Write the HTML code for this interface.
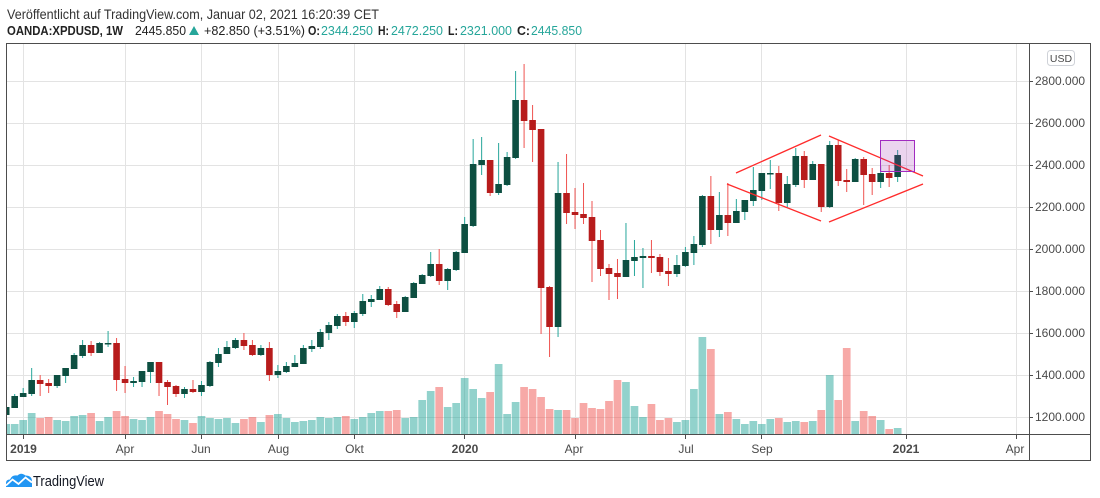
<!DOCTYPE html>
<html><head><meta charset="utf-8"><style>
html,body{margin:0;padding:0;background:#fff;width:1100px;height:498px;overflow:hidden}
svg{display:block}
.u path{stroke:#26a69a;stroke-width:1}
.d path{stroke:#ef5350;stroke-width:1}
.u rect.b{fill:#0d4f41}
.d rect.b{fill:#b71c1c}
.u rect.v{fill:rgba(38,166,154,.5)}
.d rect.v{fill:rgba(239,83,80,.5)}
.ax{font-family:"Liberation Sans",sans-serif;font-size:12px;fill:#4a4a4a}
</style></head><body>
<svg width="1100" height="498" viewBox="0 0 1100 498" xmlns="http://www.w3.org/2000/svg">
<defs><clipPath id="c"><rect x="7" y="44" width="1022" height="390"/></clipPath></defs>
<rect width="1100" height="498" fill="#fff"/>
<!-- header -->
<text x="7" y="19" font-family="Liberation Sans, sans-serif" font-size="14" fill="#333" textLength="372" lengthAdjust="spacingAndGlyphs">Veröffentlicht auf TradingView.com, Januar 02, 2021 16:20:39 CET</text>
<g font-family="Liberation Sans, sans-serif" font-size="13" fill="#222">
<text x="7" y="35" font-weight="bold" textLength="116" lengthAdjust="spacingAndGlyphs">OANDA:XPDUSD, 1W</text>
<text x="135" y="35" textLength="51" lengthAdjust="spacingAndGlyphs">2445.850</text>
<polygon points="189,35 194,26 199,35" fill="#26a69a"/>
<text x="204" y="35" textLength="101" lengthAdjust="spacingAndGlyphs">+82.850 (+3.51%)</text>
<text x="308" y="35" font-weight="bold" textLength="12" lengthAdjust="spacingAndGlyphs">O:</text>
<text x="321" y="35" fill="#26a69a" textLength="52" lengthAdjust="spacingAndGlyphs">2344.250</text>
<text x="378" y="35" font-weight="bold" textLength="11" lengthAdjust="spacingAndGlyphs">H:</text>
<text x="391" y="35" fill="#26a69a" textLength="52" lengthAdjust="spacingAndGlyphs">2472.250</text>
<text x="448" y="35" font-weight="bold" textLength="10" lengthAdjust="spacingAndGlyphs">L:</text>
<text x="460" y="35" fill="#26a69a" textLength="52" lengthAdjust="spacingAndGlyphs">2321.000</text>
<text x="517" y="35" font-weight="bold" textLength="13" lengthAdjust="spacingAndGlyphs">C:</text>
<text x="531" y="35" fill="#26a69a" textLength="51" lengthAdjust="spacingAndGlyphs">2445.850</text>
</g>
<!-- grid -->
<g stroke="#e3e3e3" stroke-width="1">
<path d="M7 81.5H1029M7 123.5H1029M7 165.5H1029M7 207.5H1029M7 249.5H1029M7 291.5H1029M7 333.5H1029M7 375.5H1029M7 417.5H1029"/>
<path d="M23.5 44V434M125.5 44V434M201.5 44V434M278.5 44V434M354.5 44V434M464.5 44V434M575.5 44V434M685.5 44V434M761.5 44V434M906.5 44V434M1016.5 44V434"/>
</g>
<!-- candles -->
<g clip-path="url(#c)">
<g class="u" transform="translate(6.2)"><rect class="v" x="-3.85" y="424" width="7.7" height="10"/><path d="M0 404V417"/><rect class="b" x="-3.3" y="407" width="6.6" height="8"/></g>
<g class="u" transform="translate(14.69)"><rect class="v" x="-3.85" y="424" width="7.7" height="10"/><path d="M0 394V408"/><rect class="b" x="-3.3" y="396" width="6.6" height="12"/></g>
<g class="u" transform="translate(23.18)"><rect class="v" x="-3.85" y="420" width="7.7" height="14"/><path d="M0 388V397"/><rect class="b" x="-3.3" y="393" width="6.6" height="4"/></g>
<g class="u" transform="translate(31.67)"><rect class="v" x="-3.85" y="413" width="7.7" height="21"/><path d="M0 368V396"/><rect class="b" x="-3.3" y="380" width="6.6" height="14"/></g>
<g class="d" transform="translate(40.16)"><rect class="v" x="-3.85" y="418" width="7.7" height="16"/><path d="M0 375V396"/><rect class="b" x="-3.3" y="380" width="6.6" height="4"/></g>
<g class="d" transform="translate(48.65)"><rect class="v" x="-3.85" y="417" width="7.7" height="17"/><path d="M0 379V393"/><rect class="b" x="-3.3" y="383" width="6.6" height="3"/></g>
<g class="u" transform="translate(57.14)"><rect class="v" x="-3.85" y="420" width="7.7" height="14"/><path d="M0 375V388"/><rect class="b" x="-3.3" y="375" width="6.6" height="11"/></g>
<g class="u" transform="translate(65.63)"><rect class="v" x="-3.85" y="421" width="7.7" height="13"/><path d="M0 368V383"/><rect class="b" x="-3.3" y="368" width="6.6" height="8"/></g>
<g class="u" transform="translate(74.12)"><rect class="v" x="-3.85" y="416" width="7.7" height="18"/><path d="M0 353V369"/><rect class="b" x="-3.3" y="355" width="6.6" height="14"/></g>
<g class="u" transform="translate(82.61)"><rect class="v" x="-3.85" y="415" width="7.7" height="19"/><path d="M0 340V358"/><rect class="b" x="-3.3" y="345" width="6.6" height="11"/></g>
<g class="d" transform="translate(91.1)"><rect class="v" x="-3.85" y="413" width="7.7" height="21"/><path d="M0 341V356"/><rect class="b" x="-3.3" y="345" width="6.6" height="8"/></g>
<g class="u" transform="translate(99.59)"><rect class="v" x="-3.85" y="421" width="7.7" height="13"/><path d="M0 342V353"/><rect class="b" x="-3.3" y="343" width="6.6" height="10"/></g>
<g class="u" transform="translate(108.08)"><rect class="v" x="-3.85" y="417" width="7.7" height="17"/><path d="M0 331V347"/><rect class="b" x="-3.3" y="343" width="6.6" height="1.5"/></g>
<g class="d" transform="translate(116.57)"><rect class="v" x="-3.85" y="411" width="7.7" height="23"/><path d="M0 338V391"/><rect class="b" x="-3.3" y="343" width="6.6" height="37"/></g>
<g class="d" transform="translate(125.06)"><rect class="v" x="-3.85" y="416" width="7.7" height="18"/><path d="M0 366V393"/><rect class="b" x="-3.3" y="379" width="6.6" height="4"/></g>
<g class="u" transform="translate(133.55)"><rect class="v" x="-3.85" y="419" width="7.7" height="15"/><path d="M0 377V387"/><rect class="b" x="-3.3" y="381" width="6.6" height="2"/></g>
<g class="u" transform="translate(142.04)"><rect class="v" x="-3.85" y="420" width="7.7" height="14"/><path d="M0 371V387"/><rect class="b" x="-3.3" y="371" width="6.6" height="11"/></g>
<g class="u" transform="translate(150.53)"><rect class="v" x="-3.85" y="417" width="7.7" height="17"/><path d="M0 362V383"/><rect class="b" x="-3.3" y="362" width="6.6" height="10"/></g>
<g class="d" transform="translate(159.02)"><rect class="v" x="-3.85" y="411" width="7.7" height="23"/><path d="M0 362V396"/><rect class="b" x="-3.3" y="362" width="6.6" height="21"/></g>
<g class="d" transform="translate(167.51)"><rect class="v" x="-3.85" y="414" width="7.7" height="20"/><path d="M0 380V405"/><rect class="b" x="-3.3" y="382" width="6.6" height="5"/></g>
<g class="d" transform="translate(176)"><rect class="v" x="-3.85" y="419" width="7.7" height="15"/><path d="M0 385V397"/><rect class="b" x="-3.3" y="386" width="6.6" height="8"/></g>
<g class="u" transform="translate(184.49)"><rect class="v" x="-3.85" y="420" width="7.7" height="14"/><path d="M0 387V398"/><rect class="b" x="-3.3" y="389" width="6.6" height="5"/></g>
<g class="d" transform="translate(192.98)"><rect class="v" x="-3.85" y="423" width="7.7" height="11"/><path d="M0 380V393"/><rect class="b" x="-3.3" y="389" width="6.6" height="3"/></g>
<g class="u" transform="translate(201.47)"><rect class="v" x="-3.85" y="416" width="7.7" height="18"/><path d="M0 381V396"/><rect class="b" x="-3.3" y="385" width="6.6" height="7"/></g>
<g class="u" transform="translate(209.96)"><rect class="v" x="-3.85" y="418" width="7.7" height="16"/><path d="M0 361V387"/><rect class="b" x="-3.3" y="362" width="6.6" height="24"/></g>
<g class="u" transform="translate(218.45)"><rect class="v" x="-3.85" y="419" width="7.7" height="15"/><path d="M0 348V367"/><rect class="b" x="-3.3" y="354" width="6.6" height="9"/></g>
<g class="u" transform="translate(226.94)"><rect class="v" x="-3.85" y="418" width="7.7" height="16"/><path d="M0 341V354"/><rect class="b" x="-3.3" y="347" width="6.6" height="7"/></g>
<g class="u" transform="translate(235.43)"><rect class="v" x="-3.85" y="423" width="7.7" height="11"/><path d="M0 338V349"/><rect class="b" x="-3.3" y="340" width="6.6" height="8"/></g>
<g class="d" transform="translate(243.92)"><rect class="v" x="-3.85" y="419" width="7.7" height="15"/><path d="M0 333V350"/><rect class="b" x="-3.3" y="340" width="6.6" height="6"/></g>
<g class="d" transform="translate(252.41)"><rect class="v" x="-3.85" y="417" width="7.7" height="17"/><path d="M0 340V356"/><rect class="b" x="-3.3" y="345" width="6.6" height="10"/></g>
<g class="u" transform="translate(260.9)"><rect class="v" x="-3.85" y="422" width="7.7" height="12"/><path d="M0 345V356"/><rect class="b" x="-3.3" y="348" width="6.6" height="7"/></g>
<g class="d" transform="translate(269.39)"><rect class="v" x="-3.85" y="415" width="7.7" height="19"/><path d="M0 342V381"/><rect class="b" x="-3.3" y="348" width="6.6" height="27"/></g>
<g class="u" transform="translate(277.88)"><rect class="v" x="-3.85" y="414" width="7.7" height="20"/><path d="M0 365V378"/><rect class="b" x="-3.3" y="371" width="6.6" height="4"/></g>
<g class="u" transform="translate(286.37)"><rect class="v" x="-3.85" y="418" width="7.7" height="16"/><path d="M0 362V373"/><rect class="b" x="-3.3" y="366" width="6.6" height="6"/></g>
<g class="u" transform="translate(294.86)"><rect class="v" x="-3.85" y="422" width="7.7" height="12"/><path d="M0 355V367"/><rect class="b" x="-3.3" y="363" width="6.6" height="4"/></g>
<g class="u" transform="translate(303.35)"><rect class="v" x="-3.85" y="421" width="7.7" height="13"/><path d="M0 345V364"/><rect class="b" x="-3.3" y="348" width="6.6" height="16"/></g>
<g class="u" transform="translate(311.84)"><rect class="v" x="-3.85" y="420" width="7.7" height="14"/><path d="M0 340V352"/><rect class="b" x="-3.3" y="346" width="6.6" height="3"/></g>
<g class="u" transform="translate(320.33)"><rect class="v" x="-3.85" y="417" width="7.7" height="17"/><path d="M0 329V349"/><rect class="b" x="-3.3" y="332" width="6.6" height="15"/></g>
<g class="u" transform="translate(328.82)"><rect class="v" x="-3.85" y="418" width="7.7" height="16"/><path d="M0 322V340"/><rect class="b" x="-3.3" y="325" width="6.6" height="8"/></g>
<g class="u" transform="translate(337.31)"><rect class="v" x="-3.85" y="417" width="7.7" height="17"/><path d="M0 314V329"/><rect class="b" x="-3.3" y="316" width="6.6" height="10"/></g>
<g class="d" transform="translate(345.8)"><rect class="v" x="-3.85" y="416" width="7.7" height="18"/><path d="M0 312V326"/><rect class="b" x="-3.3" y="316" width="6.6" height="6"/></g>
<g class="u" transform="translate(354.29)"><rect class="v" x="-3.85" y="419" width="7.7" height="15"/><path d="M0 311V328"/><rect class="b" x="-3.3" y="313" width="6.6" height="9"/></g>
<g class="u" transform="translate(362.78)"><rect class="v" x="-3.85" y="417" width="7.7" height="17"/><path d="M0 294V316"/><rect class="b" x="-3.3" y="301" width="6.6" height="13"/></g>
<g class="u" transform="translate(371.27)"><rect class="v" x="-3.85" y="413" width="7.7" height="21"/><path d="M0 295V307"/><rect class="b" x="-3.3" y="299" width="6.6" height="3"/></g>
<g class="u" transform="translate(379.76)"><rect class="v" x="-3.85" y="411" width="7.7" height="23"/><path d="M0 286V300"/><rect class="b" x="-3.3" y="289" width="6.6" height="11"/></g>
<g class="d" transform="translate(388.25)"><rect class="v" x="-3.85" y="411" width="7.7" height="23"/><path d="M0 287V306"/><rect class="b" x="-3.3" y="289" width="6.6" height="16"/></g>
<g class="d" transform="translate(396.74)"><rect class="v" x="-3.85" y="410" width="7.7" height="24"/><path d="M0 301V318"/><rect class="b" x="-3.3" y="304" width="6.6" height="8"/></g>
<g class="u" transform="translate(405.23)"><rect class="v" x="-3.85" y="418" width="7.7" height="16"/><path d="M0 296V312"/><rect class="b" x="-3.3" y="297" width="6.6" height="15"/></g>
<g class="u" transform="translate(413.72)"><rect class="v" x="-3.85" y="417" width="7.7" height="17"/><path d="M0 282V298"/><rect class="b" x="-3.3" y="283" width="6.6" height="15"/></g>
<g class="u" transform="translate(422.21)"><rect class="v" x="-3.85" y="400" width="7.7" height="34"/><path d="M0 274V284"/><rect class="b" x="-3.3" y="275" width="6.6" height="9"/></g>
<g class="u" transform="translate(430.7)"><rect class="v" x="-3.85" y="391" width="7.7" height="43"/><path d="M0 252V277"/><rect class="b" x="-3.3" y="264" width="6.6" height="12"/></g>
<g class="d" transform="translate(439.19)"><rect class="v" x="-3.85" y="387" width="7.7" height="47"/><path d="M0 249V285"/><rect class="b" x="-3.3" y="264" width="6.6" height="17"/></g>
<g class="u" transform="translate(447.68)"><rect class="v" x="-3.85" y="407" width="7.7" height="27"/><path d="M0 268V290"/><rect class="b" x="-3.3" y="269" width="6.6" height="12"/></g>
<g class="u" transform="translate(456.17)"><rect class="v" x="-3.85" y="403" width="7.7" height="31"/><path d="M0 251V271"/><rect class="b" x="-3.3" y="252" width="6.6" height="18"/></g>
<g class="u" transform="translate(464.66)"><rect class="v" x="-3.85" y="378" width="7.7" height="56"/><path d="M0 217V253"/><rect class="b" x="-3.3" y="224" width="6.6" height="29"/></g>
<g class="u" transform="translate(473.15)"><rect class="v" x="-3.85" y="389" width="7.7" height="45"/><path d="M0 139V227"/><rect class="b" x="-3.3" y="164" width="6.6" height="62"/></g>
<g class="u" transform="translate(481.64)"><rect class="v" x="-3.85" y="398" width="7.7" height="36"/><path d="M0 137V175"/><rect class="b" x="-3.3" y="160" width="6.6" height="5"/></g>
<g class="d" transform="translate(490.13)"><rect class="v" x="-3.85" y="392" width="7.7" height="42"/><path d="M0 160V196"/><rect class="b" x="-3.3" y="160" width="6.6" height="33"/></g>
<g class="u" transform="translate(498.62)"><rect class="v" x="-3.85" y="364" width="7.7" height="70"/><path d="M0 143V195"/><rect class="b" x="-3.3" y="184" width="6.6" height="9"/></g>
<g class="u" transform="translate(507.11)"><rect class="v" x="-3.85" y="414" width="7.7" height="20"/><path d="M0 152V186"/><rect class="b" x="-3.3" y="157" width="6.6" height="28"/></g>
<g class="u" transform="translate(515.6)"><rect class="v" x="-3.85" y="402" width="7.7" height="32"/><path d="M0 71V159"/><rect class="b" x="-3.3" y="100" width="6.6" height="58"/></g>
<g class="d" transform="translate(524.09)"><rect class="v" x="-3.85" y="387" width="7.7" height="47"/><path d="M0 64V148"/><rect class="b" x="-3.3" y="100" width="6.6" height="21"/></g>
<g class="d" transform="translate(532.58)"><rect class="v" x="-3.85" y="389" width="7.7" height="45"/><path d="M0 105V162"/><rect class="b" x="-3.3" y="120" width="6.6" height="10"/></g>
<g class="d" transform="translate(541.07)"><rect class="v" x="-3.85" y="397" width="7.7" height="37"/><path d="M0 129V334"/><rect class="b" x="-3.3" y="129" width="6.6" height="159"/></g>
<g class="d" transform="translate(549.56)"><rect class="v" x="-3.85" y="409" width="7.7" height="25"/><path d="M0 286V357"/><rect class="b" x="-3.3" y="287" width="6.6" height="40"/></g>
<g class="u" transform="translate(558.05)"><rect class="v" x="-3.85" y="410" width="7.7" height="24"/><path d="M0 162V337"/><rect class="b" x="-3.3" y="193" width="6.6" height="134"/></g>
<g class="d" transform="translate(566.54)"><rect class="v" x="-3.85" y="410" width="7.7" height="24"/><path d="M0 154V224"/><rect class="b" x="-3.3" y="193" width="6.6" height="20"/></g>
<g class="d" transform="translate(575.03)"><rect class="v" x="-3.85" y="418" width="7.7" height="16"/><path d="M0 188V229"/><rect class="b" x="-3.3" y="212" width="6.6" height="3"/></g>
<g class="d" transform="translate(583.52)"><rect class="v" x="-3.85" y="403" width="7.7" height="31"/><path d="M0 183V224"/><rect class="b" x="-3.3" y="214" width="6.6" height="4"/></g>
<g class="d" transform="translate(592.01)"><rect class="v" x="-3.85" y="408" width="7.7" height="26"/><path d="M0 201V282"/><rect class="b" x="-3.3" y="217" width="6.6" height="24"/></g>
<g class="d" transform="translate(600.5)"><rect class="v" x="-3.85" y="409" width="7.7" height="25"/><path d="M0 230V276"/><rect class="b" x="-3.3" y="240" width="6.6" height="29"/></g>
<g class="d" transform="translate(608.99)"><rect class="v" x="-3.85" y="401" width="7.7" height="33"/><path d="M0 264V300"/><rect class="b" x="-3.3" y="268" width="6.6" height="6"/></g>
<g class="d" transform="translate(617.48)"><rect class="v" x="-3.85" y="380" width="7.7" height="54"/><path d="M0 259V299"/><rect class="b" x="-3.3" y="273" width="6.6" height="4"/></g>
<g class="u" transform="translate(625.97)"><rect class="v" x="-3.85" y="382" width="7.7" height="52"/><path d="M0 223V277"/><rect class="b" x="-3.3" y="260" width="6.6" height="17"/></g>
<g class="u" transform="translate(634.46)"><rect class="v" x="-3.85" y="406" width="7.7" height="28"/><path d="M0 240V276"/><rect class="b" x="-3.3" y="257" width="6.6" height="4"/></g>
<g class="u" transform="translate(642.95)"><rect class="v" x="-3.85" y="417" width="7.7" height="17"/><path d="M0 248V288"/><rect class="b" x="-3.3" y="256" width="6.6" height="2"/></g>
<g class="d" transform="translate(651.44)"><rect class="v" x="-3.85" y="404" width="7.7" height="30"/><path d="M0 240V273"/><rect class="b" x="-3.3" y="256" width="6.6" height="2"/></g>
<g class="d" transform="translate(659.93)"><rect class="v" x="-3.85" y="420" width="7.7" height="14"/><path d="M0 254V276"/><rect class="b" x="-3.3" y="257" width="6.6" height="15"/></g>
<g class="d" transform="translate(668.42)"><rect class="v" x="-3.85" y="418" width="7.7" height="16"/><path d="M0 258V286"/><rect class="b" x="-3.3" y="271" width="6.6" height="3"/></g>
<g class="u" transform="translate(676.91)"><rect class="v" x="-3.85" y="422" width="7.7" height="12"/><path d="M0 255V277"/><rect class="b" x="-3.3" y="265" width="6.6" height="9"/></g>
<g class="u" transform="translate(685.4)"><rect class="v" x="-3.85" y="420" width="7.7" height="14"/><path d="M0 247V267"/><rect class="b" x="-3.3" y="252" width="6.6" height="14"/></g>
<g class="u" transform="translate(693.89)"><rect class="v" x="-3.85" y="389" width="7.7" height="45"/><path d="M0 236V265"/><rect class="b" x="-3.3" y="244" width="6.6" height="9"/></g>
<g class="u" transform="translate(702.38)"><rect class="v" x="-3.85" y="337" width="7.7" height="97"/><path d="M0 195V247"/><rect class="b" x="-3.3" y="196" width="6.6" height="49"/></g>
<g class="d" transform="translate(710.87)"><rect class="v" x="-3.85" y="349" width="7.7" height="85"/><path d="M0 176V244"/><rect class="b" x="-3.3" y="196" width="6.6" height="34"/></g>
<g class="u" transform="translate(719.36)"><rect class="v" x="-3.85" y="414" width="7.7" height="20"/><path d="M0 192V237"/><rect class="b" x="-3.3" y="215" width="6.6" height="15"/></g>
<g class="d" transform="translate(727.85)"><rect class="v" x="-3.85" y="412" width="7.7" height="22"/><path d="M0 183V236"/><rect class="b" x="-3.3" y="215" width="6.6" height="8"/></g>
<g class="u" transform="translate(736.34)"><rect class="v" x="-3.85" y="419" width="7.7" height="15"/><path d="M0 199V223"/><rect class="b" x="-3.3" y="211" width="6.6" height="12"/></g>
<g class="u" transform="translate(744.83)"><rect class="v" x="-3.85" y="424" width="7.7" height="10"/><path d="M0 200V220"/><rect class="b" x="-3.3" y="200" width="6.6" height="12"/></g>
<g class="u" transform="translate(753.32)"><rect class="v" x="-3.85" y="421" width="7.7" height="13"/><path d="M0 167V206"/><rect class="b" x="-3.3" y="190" width="6.6" height="11"/></g>
<g class="u" transform="translate(761.81)"><rect class="v" x="-3.85" y="424" width="7.7" height="10"/><path d="M0 173V200"/><rect class="b" x="-3.3" y="173" width="6.6" height="18"/></g>
<g class="u" transform="translate(770.3)"><rect class="v" x="-3.85" y="419" width="7.7" height="15"/><path d="M0 160V189"/><rect class="b" x="-3.3" y="173" width="6.6" height="1.5"/></g>
<g class="d" transform="translate(778.79)"><rect class="v" x="-3.85" y="418" width="7.7" height="16"/><path d="M0 166V211"/><rect class="b" x="-3.3" y="173" width="6.6" height="30"/></g>
<g class="u" transform="translate(787.28)"><rect class="v" x="-3.85" y="422" width="7.7" height="12"/><path d="M0 176V207"/><rect class="b" x="-3.3" y="184" width="6.6" height="19"/></g>
<g class="u" transform="translate(795.77)"><rect class="v" x="-3.85" y="421" width="7.7" height="13"/><path d="M0 148V187"/><rect class="b" x="-3.3" y="156" width="6.6" height="29"/></g>
<g class="d" transform="translate(804.26)"><rect class="v" x="-3.85" y="422" width="7.7" height="12"/><path d="M0 151V188"/><rect class="b" x="-3.3" y="156" width="6.6" height="24"/></g>
<g class="u" transform="translate(812.75)"><rect class="v" x="-3.85" y="421" width="7.7" height="13"/><path d="M0 161V180"/><rect class="b" x="-3.3" y="164" width="6.6" height="16"/></g>
<g class="d" transform="translate(821.24)"><rect class="v" x="-3.85" y="410" width="7.7" height="24"/><path d="M0 164V212"/><rect class="b" x="-3.3" y="164" width="6.6" height="43"/></g>
<g class="u" transform="translate(829.73)"><rect class="v" x="-3.85" y="375" width="7.7" height="59"/><path d="M0 141V208"/><rect class="b" x="-3.3" y="145" width="6.6" height="62"/></g>
<g class="d" transform="translate(838.22)"><rect class="v" x="-3.85" y="400" width="7.7" height="34"/><path d="M0 140V186"/><rect class="b" x="-3.3" y="145" width="6.6" height="36"/></g>
<g class="d" transform="translate(846.71)"><rect class="v" x="-3.85" y="348" width="7.7" height="86"/><path d="M0 169V192"/><rect class="b" x="-3.3" y="180" width="6.6" height="2"/></g>
<g class="u" transform="translate(855.2)"><rect class="v" x="-3.85" y="421" width="7.7" height="13"/><path d="M0 158V182"/><rect class="b" x="-3.3" y="159" width="6.6" height="23"/></g>
<g class="d" transform="translate(863.69)"><rect class="v" x="-3.85" y="411" width="7.7" height="23"/><path d="M0 157V205"/><rect class="b" x="-3.3" y="159" width="6.6" height="16"/></g>
<g class="d" transform="translate(872.18)"><rect class="v" x="-3.85" y="416" width="7.7" height="18"/><path d="M0 168V195"/><rect class="b" x="-3.3" y="174" width="6.6" height="8"/></g>
<g class="u" transform="translate(880.67)"><rect class="v" x="-3.85" y="420" width="7.7" height="14"/><path d="M0 166V188"/><rect class="b" x="-3.3" y="173" width="6.6" height="9"/></g>
<g class="d" transform="translate(889.16)"><rect class="v" x="-3.85" y="429" width="7.7" height="5"/><path d="M0 165V187"/><rect class="b" x="-3.3" y="173" width="6.6" height="5"/></g>
<g class="u" transform="translate(897.65)"><rect class="v" x="-3.85" y="428" width="7.7" height="6"/><path d="M0 150V182"/><rect class="b" x="-3.3" y="155" width="6.6" height="22"/></g>
<!-- drawings -->
<g stroke="#ff2b2b" stroke-width="1.3" fill="none">
<path d="M736 173L821 135"/>
<path d="M727 184L821 221"/>
<path d="M829 136L923 176"/>
<path d="M829 222L923 184"/>
</g>
<rect x="880.5" y="140.5" width="34" height="31" fill="rgba(156,39,176,0.2)" stroke="#a12cc0" stroke-width="1"/>
</g>
<!-- frame -->
<g stroke="#4d4d4d" stroke-width="1" fill="none">
<rect x="6.5" y="43.5" width="1084" height="417"/>
<path d="M1029.5 44V461M7 434.5H1091"/>
<path d="M1029 81.5H1033M1029 123.5H1033M1029 165.5H1033M1029 207.5H1033M1029 249.5H1033M1029 291.5H1033M1029 333.5H1033M1029 375.5H1033M1029 417.5H1033"/>
<path d="M23.5 435V439M125.5 435V439M201.5 435V439M278.5 435V439M354.5 435V439M464.5 435V439M575.5 435V439M685.5 435V439M761.5 435V439M906.5 435V439M1016.5 435V439"/>
</g>
<!-- price labels -->
<g class="ax">
<text x="1035" y="85">2800.000</text>
<text x="1035" y="127">2600.000</text>
<text x="1035" y="169">2400.000</text>
<text x="1035" y="211">2200.000</text>
<text x="1035" y="253">2000.000</text>
<text x="1035" y="295">1800.000</text>
<text x="1035" y="337">1600.000</text>
<text x="1035" y="379">1400.000</text>
<text x="1035" y="421">1200.000</text>
</g>
<rect x="1047.5" y="50.5" width="27" height="15" rx="3" fill="#fff" stroke="#cfd2d8"/>
<text x="1061" y="62" text-anchor="middle" font-family="Liberation Sans, sans-serif" font-size="10.5" fill="#4a4a4a">USD</text>
<!-- time labels -->
<g class="ax" text-anchor="middle">
<text x="23.5" y="453" font-weight="bold">2019</text>
<text x="125" y="453">Apr</text>
<text x="201" y="453">Jun</text>
<text x="278.5" y="453">Aug</text>
<text x="354.5" y="453">Okt</text>
<text x="465" y="453" font-weight="bold">2020</text>
<text x="574" y="453">Apr</text>
<text x="686" y="453">Jul</text>
<text x="762" y="453">Sep</text>
<text x="906" y="453" font-weight="bold">2021</text>
<text x="1015" y="453">Apr</text>
</g>
<!-- logo -->
<path d="M6 487V483Q6 479.5 10 479.5Q12 474.5 17.5 475.5Q21 472 25.5 475.5Q32 475.5 32 481.5V487Z" fill="#2196f3"/>
<path d="M6 485.5L12.5 479.5L18.5 484L25.5 477.5L32 482.5" stroke="#fff" stroke-width="1.8" fill="none"/>
<text x="33" y="486" font-family="Liberation Sans, sans-serif" font-size="15" fill="#131722" textLength="71" lengthAdjust="spacingAndGlyphs">TradingView</text>
</svg>
</body></html>
